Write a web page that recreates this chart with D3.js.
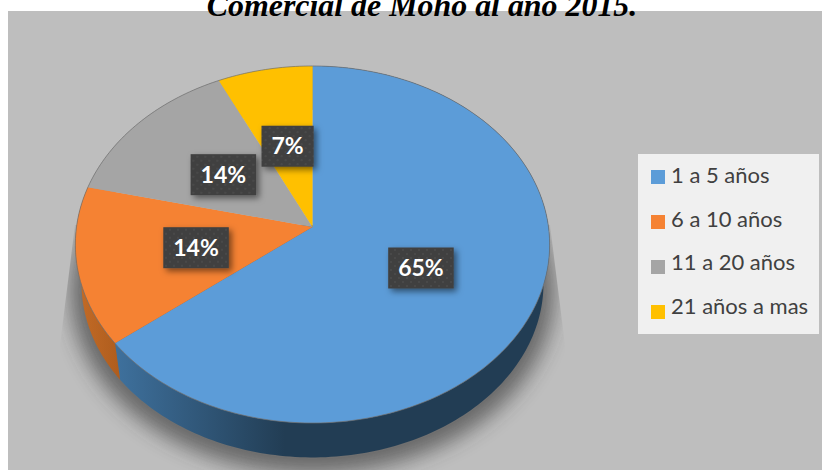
<!DOCTYPE html>
<html>
<head>
<meta charset="utf-8">
<script src="https://d3js.org/d3.v7.min.js"></script>
<style>
html, body { margin: 0; padding: 0; background: #fff; }
svg { display: block; }
</style>
</head>
<body>
<svg id="chart"></svg>
<script>
// data
const categories = ["1 a 5 años", "6 a 10 años", "11 a 20 años", "21 años a mas"];
const shares = [64.4, 14.3, 14.2, 7.1];
// printed labels, the chart rounds them its own way
const percentLabels = ["65%", "14%", "14%", "7%"];
// clockwise from 12 o'clock, the order the slices are drawn in
const sliceOrder = [0, 1, 2, 3];
const titleText = "Comercial de Moho al año 2015.";

const width = 822, height = 470;
const colors = ["#5c9cd8", "#f58233", "#a5a5a5", "#ffc000"];

// tilted disc: top face and a slightly smaller bottom face
const cx = 312.5, cy = 227, R = 236, A = 176.8, k = 0.098;
const bottomScale = 0.974, bottomCy = 266.5;

function project(theta, rho = 1, scale = 1, y0 = cy) {
    let w = 1 + k * rho * Math.cos(theta);
    return [
        cx + scale * R * rho * Math.sin(theta) / w,
        y0 - scale * A * rho * Math.cos(theta) / w
    ];
}

function arcPoints(a0, a1, scale, y0) {
    let n = Math.max(2, Math.ceil((a1 - a0) / 0.02));
    return d3.range(n + 1).map(i => project(a0 + (a1 - a0) * i / n, 1, scale, y0));
}

let svg = d3.select("#chart")
    .attr("width", width)
    .attr("height", height)
    .attr("viewBox", [0, 0, width, height]);

let line = d3.line();
let defs = svg.append("defs");

let wallBlue = defs.append("linearGradient").attr("id", "wall0")
    .attr("gradientUnits", "userSpaceOnUse")
    .attr("x1", 118).attr("x2", 285).attr("y1", 0).attr("y2", 0);
wallBlue.append("stop").attr("offset", 0).attr("stop-color", "#3e709c");
wallBlue.append("stop").attr("offset", 1).attr("stop-color", "#223d54");

let wallOrange = defs.append("linearGradient").attr("id", "wall1")
    .attr("gradientUnits", "userSpaceOnUse")
    .attr("x1", 80).attr("x2", 122).attr("y1", 0).attr("y2", 0);
wallOrange.append("stop").attr("offset", 0).attr("stop-color", "#c26a26");
wallOrange.append("stop").attr("offset", 1).attr("stop-color", "#ad5c1d");

let blurShadow = defs.append("filter").attr("id", "blurShadow")
    .attr("x", "-20%").attr("y", "-20%").attr("width", "140%").attr("height", "140%");
blurShadow.append("feGaussianBlur").attr("stdDeviation", 10);

let boxShadow = defs.append("filter").attr("id", "boxShadow")
    .attr("x", "-30%").attr("y", "-30%").attr("width", "170%").attr("height", "170%");
boxShadow.append("feDropShadow")
    .attr("dx", 3).attr("dy", 3).attr("stdDeviation", 3)
    .attr("flood-color", "#000").attr("flood-opacity", 0.5);

let dots = defs.append("pattern").attr("id", "dots")
    .attr("patternUnits", "userSpaceOnUse")
    .attr("width", 8).attr("height", 8);
dots.append("rect").attr("width", 8).attr("height", 8).attr("fill", "#404040");
dots.append("rect").attr("x", 1).attr("y", 1).attr("width", 2).attr("height", 2).attr("fill", "#4a4a4a");
dots.append("rect").attr("x", 5).attr("y", 5).attr("width", 2).attr("height", 2).attr("fill", "#4a4a4a");

// the shadow is cut off along two flared lines at the sides of the disc
defs.append("clipPath").attr("id", "shadowClip")
    .append("polygon")
    .attr("points", "75,225 550,225 565,345 585,470 40,470 60,345");

// panel
svg.append("rect")
    .attr("x", 8).attr("y", 11)
    .attr("width", width - 8).attr("height", height - 11)
    .attr("fill", "#bebebe");

let slices = d3.pie().sort(null).value(i => shares[i])(sliceOrder);

// shadow under the disc
svg.append("g").attr("clip-path", "url(#shadowClip)")
    .append("path")
    .attr("d", line(arcPoints(0, 2 * Math.PI, 1.02, bottomCy + 7)) + "Z")
    .attr("fill", "#333")
    .attr("opacity", 0.6)
    .attr("filter", "url(#blurShadow)");

// side wall
svg.append("g").selectAll("path")
    .data(slices)
    .join("path")
    .attr("d", d => {
        let upper = arcPoints(d.startAngle, d.endAngle, 1, cy);
        let lower = arcPoints(d.startAngle, d.endAngle, bottomScale, bottomCy).reverse();
        return line(upper.concat(lower)) + "Z";
    })
    .attr("fill", (d, i) => i < 2 ? `url(#wall${i})` : colors[i]);

// top face
svg.append("g").selectAll("path")
    .data(slices)
    .join("path")
    .attr("d", d => line([[cx, cy]].concat(arcPoints(d.startAngle, d.endAngle, 1, cy))) + "Z")
    .attr("fill", d => colors[d.data]);

svg.append("path")
    .attr("d", line(arcPoints(0, 2 * Math.PI, 1, cy)) + "Z")
    .attr("fill", "none")
    .attr("stroke", "#6e6e6e")
    .attr("stroke-width", 0.7);

// percentage labels
let labels = svg.append("g").selectAll("g")
    .data(slices)
    .join("g")
    .attr("transform", d => {
        let p = project((d.startAngle + d.endAngle) / 2, 0.5);
        return `translate(${p[0]},${p[1] + 1.5})`;
    });

labels.append("text")
    .attr("text-anchor", "middle")
    .attr("y", 8)
    .attr("font-family", "Lato")
    .attr("font-weight", 700)
    .attr("font-size", 23)
    .attr("fill", "#fff")
    .text(d => percentLabels[d.data]);

labels.each(function() {
    let g = d3.select(this);
    let w = g.select("text").node().getComputedTextLength() + 20;
    g.insert("rect", "text")
        .attr("x", -w / 2).attr("y", -20.5)
        .attr("width", w).attr("height", 41)
        .attr("fill", "url(#dots)")
        .attr("filter", "url(#boxShadow)");
});

// legend
svg.append("rect")
    .attr("x", 638).attr("y", 154)
    .attr("width", 181).attr("height", 180)
    .attr("fill", "#f0f0f0");

let swatchY = d3.scalePoint().domain(categories).range([170, 305]);
let legendTextY = d3.scalePoint().domain(categories).range([183, 314]);

let legend = svg.append("g").selectAll("g")
    .data(categories)
    .join("g");

legend.append("rect")
    .attr("x", 651)
    .attr("y", d => swatchY(d))
    .attr("width", 14).attr("height", 14)
    .attr("fill", (d, i) => colors[i]);

legend.append("text")
    .attr("x", 671)
    .attr("y", d => legendTextY(d))
    .attr("font-family", "Lato")
    .attr("font-size", 22)
    .attr("fill", "#404040")
    .text(d => d);

// title, cropped by the top of the page
svg.append("text")
    .attr("x", 422).attr("y", 15.5)
    .attr("text-anchor", "middle")
    .attr("font-family", "Liberation Serif")
    .attr("font-weight", 700)
    .attr("font-style", "italic")
    .attr("font-size", 31.9)
    .attr("fill", "#000")
    .text(titleText);
</script>
</body>
</html>
